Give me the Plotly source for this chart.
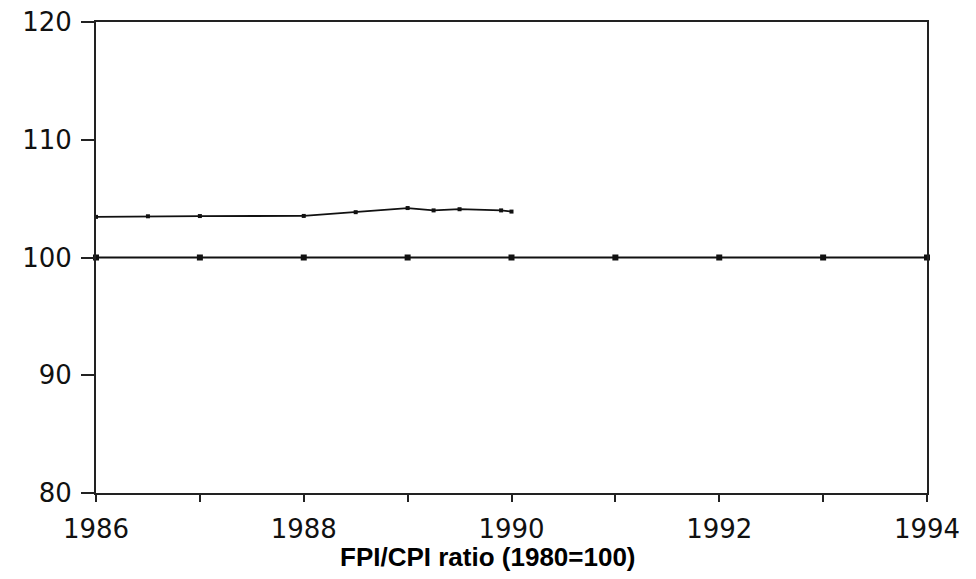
import plotly.graph_objects as go

# Data
years_upper = [1986, 1986.5, 1987, 1988, 1988.5, 1989, 1989.25, 1989.5, 1989.9, 1990]
fpi_cpi_upper = [103.45, 103.5, 103.52, 103.53, 103.85, 104.2, 104.0, 104.1, 104.0, 103.9]
years_base = [1986, 1987, 1988, 1989, 1990, 1991, 1992, 1993, 1994]
base_values = [100, 100, 100, 100, 100, 100, 100, 100, 100]
x_tickvals = [1986, 1987, 1988, 1989, 1990, 1991, 1992, 1993, 1994]
x_ticktext = ["1986", "", "1988", "", "1990", "", "1992", "", "1994"]
y_tickvals = [80, 90, 100, 110, 120]
title_text = "FPI/CPI ratio (1980=100)"

fig = go.Figure()
fig.add_trace(go.Scatter(
    x=years_upper, y=fpi_cpi_upper, mode="lines+markers",
    line=dict(color="#111111", width=1.8),
    marker=dict(symbol="square", size=4, color="#111111"),
    showlegend=False, cliponaxis=False,
))
fig.add_trace(go.Scatter(
    x=years_base, y=base_values, mode="lines+markers",
    line=dict(color="#111111", width=1.8),
    marker=dict(symbol="square", size=6, color="#111111"),
    showlegend=False, cliponaxis=False,
))

axis_font = dict(family="DejaVu Sans", size=26, color="#111111")
fig.update_layout(
    width=976, height=579,
    margin=dict(l=96, r=49, t=22, b=86),
    paper_bgcolor="white", plot_bgcolor="white",
    xaxis=dict(
        range=[1986, 1994], tickvals=x_tickvals, ticktext=x_ticktext,
        ticks="outside", ticklen=7, tickwidth=2, tickcolor="#222222",
        showline=True, linewidth=2, linecolor="#222222", mirror=True,
        showgrid=False, zeroline=False, tickfont=axis_font, automargin=False,
        ticklabeloverflow="allow", ticklabelstandoff=5,
    ),
    yaxis=dict(
        range=[80, 120], tickvals=y_tickvals,
        ticks="outside", ticklen=13, tickwidth=2, tickcolor="#222222",
        showline=True, linewidth=2, linecolor="#222222", mirror=True,
        showgrid=False, zeroline=False, tickfont=axis_font, automargin=False,
        ticklabeloverflow="allow", ticklabelstandoff=4,
    ),
    annotations=[dict(
        text="<b>" + title_text + "</b>", xref="paper", yref="paper",
        x=0.472, y=-0.135, xanchor="center", yanchor="middle", showarrow=False,
        font=dict(family="Liberation Sans", size=26, color="#000000"),
    )],
)

fig.write_html("out.html", post_script="document.body.style.margin='0';",
               config={"displayModeBar": False})
